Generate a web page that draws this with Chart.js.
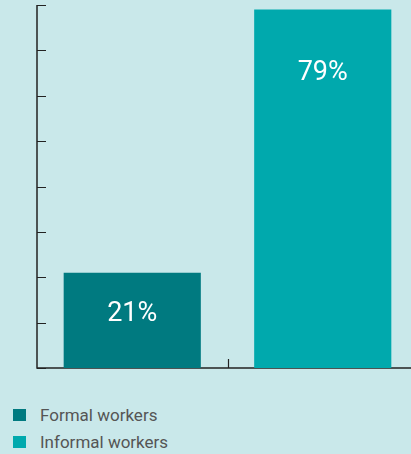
<!DOCTYPE html>
<html>
<head>
<meta charset="utf-8">
<script src="https://cdn.jsdelivr.net/npm/chart.js@4"></script>
<style>
  html, body { margin: 0; padding: 0; }
  body { width: 411px; height: 454px; overflow: hidden; background: #c9e8ea; font-family: Roboto, sans-serif; }
  #wrap { position: relative; width: 420px; height: 372px; }
  #legend { margin: 0; padding: 0; list-style: none; position: absolute; left: 13px; top: 401px; }
  #legend li { display: flex; align-items: center; height: 27px; color: #555; font-size: 17px; }
  #legend span { display: inline-block; width: 13px; height: 12px; margin-right: 14px; }
</style>
</head>
<body>
<div id="wrap"><canvas id="chart" width="420" height="372"></canvas></div>
<ul id="legend"></ul>
<script>
// Share of workers, formal vs informal
const categories = ['Formal workers', 'Informal workers'];
const shares = [21, 79];
const barColors = ['#007a80', '#00a9ad'];
const yTicks = [0, 10, 20, 30, 40, 50, 60, 70, 80];

// Axis lines with short inward tick marks, drawn under the bars
const axesPlugin = {
  id: 'inwardAxes',
  beforeDatasetsDraw(chart) {
    const { ctx, chartArea, scales } = chart;
    const x = scales.x, y = scales.y;
    ctx.save();
    ctx.strokeStyle = '#222';
    ctx.lineWidth = 1.5;
    ctx.beginPath();
    ctx.moveTo(chartArea.left, chartArea.top);
    ctx.lineTo(chartArea.left, chartArea.bottom);
    ctx.lineTo(chartArea.right, chartArea.bottom);
    ctx.stroke();
    ctx.lineWidth = 1.2;
    ctx.beginPath();
    yTicks.forEach(v => {
      const py = Math.round(y.getPixelForValue(v)) + 0.5;
      ctx.moveTo(chartArea.left, py);
      ctx.lineTo(chartArea.left + 9, py);
    });
    // category boundaries on the x axis
    for (let i = 1; i < categories.length; i++) {
      const px = Math.round((x.getPixelForValue(i - 1) + x.getPixelForValue(i)) / 2) + 0.5;
      ctx.moveTo(px, chartArea.bottom);
      ctx.lineTo(px, chartArea.bottom - 9);
    }
    ctx.stroke();
    ctx.restore();
  }
};

// Percent labels inside the bars
const labelPlugin = {
  id: 'barLabels',
  afterDatasetsDraw(chart) {
    const { ctx } = chart;
    const offsets = [42, 64];
    ctx.save();
    ctx.fillStyle = '#fff';
    ctx.font = '27px Roboto';
    ctx.textAlign = 'center';
    ctx.textBaseline = 'middle';
    chart.getDatasetMeta(0).data.forEach((bar, i) => {
      ctx.fillText(shares[i] + '%', bar.x, bar.y + offsets[i]);
    });
    ctx.restore();
  }
};

new Chart(document.getElementById('chart'), {
  type: 'bar',
  data: {
    labels: categories,
    datasets: [{
      data: shares,
      backgroundColor: barColors,
      borderWidth: 0,
      categoryPercentage: 1,
      barPercentage: 0.72
    }]
  },
  options: {
    responsive: false,
    animation: false,
    layout: { padding: { left: 37, top: 5, right: 2, bottom: 4 } },
    scales: {
      x: { display: false },
      y: { display: false, min: 0, max: 80 }
    },
    plugins: {
      legend: { display: false },
      tooltip: { enabled: false }
    }
  },
  plugins: [axesPlugin, labelPlugin]
});

const legend = document.getElementById('legend');
categories.forEach((c, i) => {
  const li = document.createElement('li');
  li.innerHTML = '<span style="background:' + barColors[i] + '"></span>' + c;
  legend.appendChild(li);
});
</script>
</body>
</html>
